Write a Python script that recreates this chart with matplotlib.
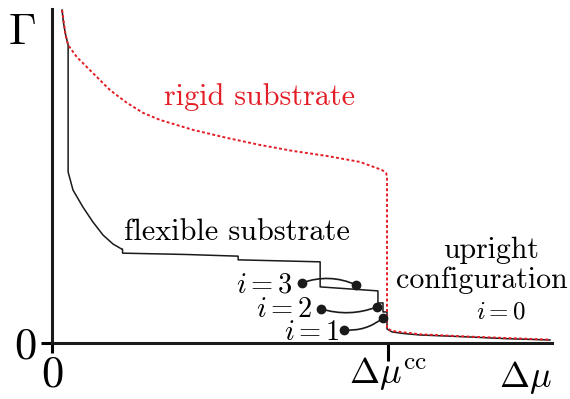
import matplotlib
matplotlib.use("Agg")
import matplotlib.pyplot as plt

plt.rcParams['mathtext.fontset'] = 'cm'
plt.rcParams['font.family'] = ['cmr10', 'DejaVu Serif']
plt.rcParams['axes.unicode_minus'] = False

# flexible substrate curve (black)
flex_x = [0.030, 0.034, 0.040, 0.048, 0.048, 0.0625, 0.092, 0.122, 0.152, 0.182, 0.208,
          0.210, 0.210, 0.40, 0.554, 0.554, 0.798, 0.798, 0.970, 0.970, 0.985, 0.985,
          0.997, 0.997, 1.012, 1.05, 1.095, 1.244, 1.35, 1.482]
flex_y = [0.997, 0.960, 0.925, 0.892, 0.512, 0.458, 0.407, 0.362, 0.323, 0.296, 0.281,
          0.281, 0.269, 0.265, 0.260, 0.249, 0.243, 0.168, 0.156, 0.120, 0.120, 0.093,
          0.093, 0.042, 0.033, 0.028, 0.024, 0.018, 0.013, 0.009]

# rigid substrate curve (red dotted)
rigid_x = [0.030, 0.040, 0.048, 0.074, 0.122, 0.173, 0.223, 0.271, 0.321, 0.420, 0.521,
           0.619, 0.717, 0.818, 0.917, 0.982, 0.994, 0.997, 0.997, 1.012, 1.095, 1.244, 1.482]
rigid_y = [0.997, 0.925, 0.892, 0.856, 0.808, 0.757, 0.719, 0.689, 0.668, 0.638, 0.614,
           0.593, 0.575, 0.560, 0.542, 0.518, 0.509, 0.500, 0.044, 0.036, 0.026, 0.019, 0.010]

# i-state annotations: label, dot A, dot B, arc radius
state_labels = ["$i=3$", "$i=2$", "$i=1$"]
dot_a = [(0.744, 0.180), (0.801, 0.102), (0.869, 0.039)]
dot_b = [(0.905, 0.174), (0.967, 0.108), (0.985, 0.075)]
arc_rad = [-0.2, 0.17, 0.2]
label_pos = [(0.717, 0.150), (0.777, 0.078), (0.857, 0.009)]

xticks = [0.0, 1.0]
xticklabels = ["0", r"$\Delta\mu^{\rm cc}$"]
yticks = [0.0]
yticklabels = ["0"]

red = '#e41e26'

fig = plt.figure(figsize=(5.70, 3.99), dpi=100)
ax = fig.add_axes([52/570, (399-343)/399, 500/570, 334/399])
ax.set_xlim(0, 1.488)
ax.set_ylim(0, 1.0)

ax.plot(rigid_x, rigid_y, color=red, lw=1.4, linestyle=(0, (1.5, 1.2)), zorder=3, clip_on=False)
ax.plot(flex_x, flex_y, color='#1a1a1a', lw=1.1, zorder=2, clip_on=False)

for lab, a, b, r, lp in zip(state_labels, dot_a, dot_b, arc_rad, label_pos):
    ax.annotate('', xy=b, xytext=a,
                arrowprops=dict(arrowstyle='-', connectionstyle=f'arc3,rad={r}',
                                lw=1.2, color='#1a1a1a', shrinkA=0, shrinkB=0))
    ax.plot([a[0], b[0]], [a[1], b[1]], 'o', color='#1a1a1a', ms=6, zorder=5)
    ax.text(lp[0], lp[1], lab, fontsize=20.5, ha='right', va='baseline')

ax.text(0.619, 0.713, "rigid substrate", color=red, fontsize=21.7, ha='center', va='baseline')
ax.text(0.551, 0.308, "flexible substrate", fontsize=21.8, ha='center', va='baseline')
ax.text(1.307, 0.254, "upright", fontsize=21.5, ha='center', va='baseline')
ax.text(1.280, 0.165, "configuration", fontsize=21.5, ha='center', va='baseline')
ax.text(1.336, 0.072, "$i=0$", fontsize=18, ha='center', va='baseline')

for s in ['top', 'right']:
    ax.spines[s].set_visible(False)
for s in ['left', 'bottom']:
    ax.spines[s].set_linewidth(2.2)
    ax.spines[s].set_color('#1a1a1a')

ax.set_xticks(xticks)
ax.set_xticklabels(xticklabels)
ax.set_yticks(yticks)
ax.set_yticklabels(yticklabels, fontsize=32)
ax.tick_params(axis='x', length=7, width=2.2, pad=2, labelsize=26)
ax.tick_params(axis='y', length=8, width=2.2, pad=3)
ax.get_xticklabels()[0].set_fontsize(32)
ax.xaxis.get_major_ticks()[1].tick1line.set_markersize(13)

fig.text(22/570, 1 - 33/399, r"$\Gamma$", fontsize=32, ha='center', va='center')
fig.text(525/570, 1 - 387/399, r"$\Delta\mu$", fontsize=26, ha='center', va='baseline')

fig.savefig("out.png", dpi=100)
